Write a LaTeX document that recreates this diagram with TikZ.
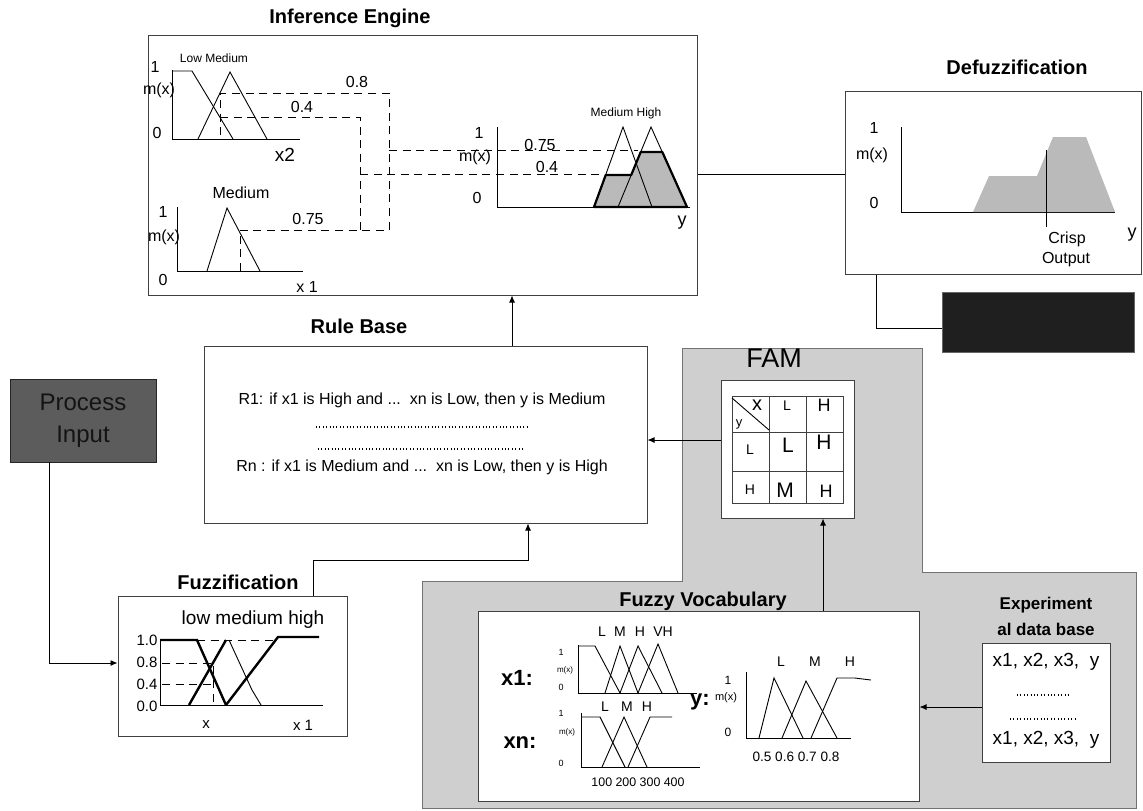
\documentclass[tikz,border=0pt]{standalone}
\usepackage{fontspec}
\setmainfont{Liberation Sans}
\usetikzlibrary{arrows.meta}
\newcommand\fz[1]{\fontsize{#1pt}{#1pt}\selectfont}
\begin{document}
\begin{tikzpicture}[x=0.5pt,y=-0.5pt,
  bx/.style={draw=black!75, line width=0.5pt, fill=white, inner sep=0pt},
  ttl/.style={font=\bfseries\fz{10}, inner sep=0pt},
  lab/.style={font=\fz{#1}, inner sep=0pt},
  lab/.default=8,
  ln/.style={line width=0.45pt},
  dsh/.style={line width=0.45pt, dash pattern=on 4pt off 2.8pt},
  thk/.style={line width=1.2pt},
  dots/.style={line width=0.6pt, dash pattern=on 0.5pt off 1.2pt},
  arr/.style={line width=0.45pt, -{Latex[length=3.5pt,width=3pt]}},
  shd/.style={fill=black!27},
]
\fill[white] (0,0) rectangle (1143,810);
\useasboundingbox (0,0) rectangle (1143,810);

% shaded knowledge area
\path[fill=black!19, draw=black!55, line width=0.4pt] (682,348) -- (922,348) -- (922,572) -- (1136,572) -- (1136,808) -- (422,808) -- (422,581) -- (682,581) -- cycle;

% boxes
\node[bx, minimum width=274.5pt, minimum height=130pt] (ie) at (422.5,165) {};
\node[bx, minimum width=148pt, minimum height=91.5pt] (defz) at (993,182.5) {};
\node[draw=black!60, fill=black!88, minimum width=96pt, minimum height=30pt, inner sep=0pt] (outb) at (1038,322) {};
\node[bx, minimum width=221.5pt, minimum height=88.5pt] (rule) at (425.5,434.5) {};
\node[draw=black!85, fill=black!64, minimum width=73pt, minimum height=41.5pt, inner sep=0pt, align=center, font=\fz{12}, text=black!92] (proc) at (83,420.5) {Process\\[4pt]Input};
\node[bx, minimum width=114.5pt, minimum height=70pt] (fuzz) at (232.5,666) {};
\node[bx, minimum width=66.5pt, minimum height=69pt] (fam) at (787.5,449) {};
\node[bx, minimum width=220.5pt, minimum height=95pt] (voc) at (698.5,706) {};
\node[bx, minimum width=64pt, minimum height=59.5pt] (db) at (1046,702.5) {};

% titles
\node[ttl] (tie) at (350,18) {Inference Engine};
\node[ttl] (tdf) at (1017,67) {Defuzzification};
\node[ttl] (trb) at (359,326) {Rule Base};
\node[ttl] (tfz) at (238,582) {Fuzzification};
\node[ttl] (tfv) at (703,601) {Fuzzy Vocabulary};
\node[lab=13.5] (tfam) at (774,358) {FAM};
\node[font=\bfseries\fz{8.5}, inner sep=0pt, align=center] (tdb) at (1046,616) {Experiment\\[4.5pt]al data base};

% connectors
\draw[ln] (ie.east |- 0,174) -- (defz.west |- 0,174);
\draw[ln] (defz.south -| 876,0) |- (outb.west |- 0,328);
\draw[arr] (rule.north -| 512,0) -- (ie.south -| 512,0);
\draw[arr] (fam.west |- 0,440) -- (rule.east |- 0,440);
\draw[arr] (voc.north -| 823,0) -- (fam.south -| 823,0);
\draw[arr] (db.west |- 0,707) -- (voc.east |- 0,707);
\draw[arr] (proc.south -| 49,0) |- (fuzz.west |- 0,663);
\draw[arr] (fuzz.north -| 313,0) -- (313,560) -| (rule.south -| 528,0);

% ---- Inference engine: x2 plot
\draw[ln] (172,70) -- (172,139) -- (300,139);
\draw[ln] (172,71) -- (192,71) -- (233,139);
\draw[ln] (198,139) -- (230,72) -- (267,139);
\node[lab=6] (ie1) at (214,58) {Low Medium};
\node[lab] (ie2) at (155,67) {1};
\node[lab] (ie3) at (159,90) {m(x)};
\node[lab] (ie4) at (157,133) {0};
\node[lab=9.5] (ie5) at (285,155) {x2};
% x1 plot
\draw[ln] (177,207) -- (177,271) -- (303,271);
\draw[ln] (207,271) -- (227,208) -- (260,271);
\node[lab] (ie6) at (241,193) {Medium};
\node[lab] (ie7) at (163,212) {1};
\node[lab] (ie8) at (164,237) {m(x)};
\node[lab] (ie9) at (163,280) {0};
\node[lab] (ie10) at (307,287) {x 1};
% dashed min lines
\draw[dsh] (240,271) -- (240,230) -- (389,230) -- (389,93) -- (220,93) -- (220,139);
\draw[dsh] (220,117) -- (360,117) -- (360,230);
\draw[dsh] (389,150) -- (638,150);
\draw[dsh] (360,174) -- (606,174);
\node[lab] (ie11) at (357,82) {0.8};
\node[lab] (ie12) at (302,107) {0.4};
\node[lab] (ie13) at (308,219) {0.75};
% output plot
\draw[ln] (497,127) -- (497,207) -- (690,207);
\path[shd, draw=black, line width=1.1pt, line join=round] (594,207) -- (605.7,175) -- (631.2,175) -- (640.7,152) -- (662.3,152) -- (687,207) -- cycle;
\draw[ln] (594,207) -- (623,127) -- (652,207);
\draw[ln] (618,207) -- (651,127) -- (687,207);
\node[lab=6] (ie14) at (626,113) {Medium High};
\node[lab] (ie15) at (479,133) {1};
\node[lab] (ie16) at (475,157) {m(x)};
\node[lab] (ie17) at (477,198) {0};
\node[lab] (ie18) at (540,145) {0.75};
\node[lab] (ie19) at (547,167) {0.4};
\node[lab=9] (ie20) at (682,223) {y};

% ---- Defuzzification
\draw[ln] (901,127) -- (901,212) -- (1115,212);
\path[shd] (973,212) -- (989,176) -- (1037,176) -- (1053,137) -- (1086,137) -- (1115,212) -- cycle;
\draw[ln] (1046,150) -- (1046,227);
\node[lab] (df1) at (874,128) {1};
\node[lab] (df2) at (872,155) {m(x)};
\node[lab] (df3) at (874,203) {0};
\node[lab] (df4) at (1067,239) {Crisp};
\node[lab] (df5) at (1066,260) {Output};
\node[lab=9] (df6) at (1132,235) {y};

% ---- Rule base text
\node[lab] (r1) at (422,400) {R1: if x1 is High and ...\ \ xn is Low, then y is Medium};
\draw[dots] (316,427) -- (528,427);
\draw[dots] (318,449) -- (525,449);
\node[lab] (rn) at (422,467) {Rn : if x1 is Medium and ...\ \ xn is Low, then y is High};

% ---- FAM grid
\draw[line width=0.5pt, draw=black!75] (732,396) rectangle (843,503);
\draw[line width=0.5pt, draw=black!75] (769,396) -- (769,503) (806,396) -- (806,503) (732,432) -- (843,432) (732,471) -- (843,471);
\draw[ln] (732,398) -- (769,430);
\node[lab=10] (f1) at (757,405) {x};
\node[lab=6.5] (f2) at (739,424) {y};
\node[lab=7] (f3) at (787,406) {L};
\node[lab=9] (f4) at (824,405) {H};
\node[lab=7] (f5) at (750,450) {L};
\node[lab=10.5] (f6) at (788,445) {L};
\node[lab=10.5] (f7) at (824,442) {H};
\node[lab=7] (f8) at (750,490) {H};
\node[lab=10.5] (f9) at (785,490) {M};
\node[lab=9] (f10) at (826,491) {H};

% ---- Fuzzification
\draw[ln] (160,640) -- (160,705) -- (323,705);
\draw[thk] (160,640) -- (197,640) -- (226,705);
\draw[thk] (189,705) -- (226,640);
\draw[ln] (229,640) -- (252,690) -- (261,705);
\draw[thk] (226,705) -- (278,637) -- (319,637);
\draw[dsh] (197,640) -- (278,640);
\draw[dsh] (162,663) -- (213,663) -- (213,705);
\draw[dsh] (162,684) -- (213,684);
\node[lab=9.5] (z1) at (253,620) {low medium high};
\node[lab=7.5] (z2) at (147,640) {1.0};
\node[lab=7.5] (z3) at (147,662) {0.8};
\node[lab=7.5] (z4) at (147,684) {0.4};
\node[lab=7.5] (z5) at (147,706) {0.0};
\node[lab=7.5] (z6) at (206,725) {x};
\node[lab=7.5] (z7) at (303,725) {x 1};

% ---- Fuzzy vocabulary
\node[font=\bfseries\fz{11}, inner sep=0pt] (v1) at (517,678) {x1:};
\node[font=\bfseries\fz{11}, inner sep=0pt] (v2) at (520,743) {xn:};
\node[font=\bfseries\fz{11}, inner sep=0pt] (v3) at (700,702) {y:};
% x1
\draw[ln] (578,645) -- (578,693) -- (697,693);
\draw[ln] (578,646) -- (595,646) -- (620,693);
\draw[ln] (605,693) -- (620,646) -- (638,693);
\draw[ln] (620,693) -- (638,646) -- (662,693);
\draw[ln] (638,693) -- (658,644) -- (678,693);
\node[lab=4.5] (v4) at (561,652) {1};
\node[lab=4] (v5) at (565,670) {m(x)};
\node[lab=4.5] (v6) at (561,687) {0};
\node[lab=7] (v7) at (602,632) {L};
\node[lab=7] (v8) at (620,632) {M};
\node[lab=7] (v9) at (640,632) {H};
\node[lab=7] (v10) at (663,632) {VH};
% xn
\draw[ln] (581,713) -- (581,767) -- (700,767);
\draw[ln] (581,717) -- (600,717) -- (625,767);
\draw[ln] (602,767) -- (624,717) -- (647,767);
\draw[ln] (628,767) -- (650,717) -- (672,717);
\node[lab=4.5] (v11) at (561,713) {1};
\node[lab=4] (v12) at (567,732) {m(x)};
\node[lab=4.5] (v13) at (561,763) {0};
\node[lab=7] (v14) at (605,707) {L};
\node[lab=7] (v15) at (627,707) {M};
\node[lab=7] (v16) at (647,707) {H};
\node[lab=6.2] (v17) at (638,782) {100 200 300 400};
% y
\draw[ln] (746,672) -- (746,738) -- (851,738);
\draw[ln] (759,738) -- (774,678) -- (803,738);
\draw[ln] (782,738) -- (806,681) -- (837,738);
\draw[ln] (811,738) -- (837,678) -- (855,678) -- (871,680);
\node[lab=6] (v18) at (728,680) {1};
\node[lab=5.5] (v19) at (726,698) {m(x)};
\node[lab=6] (v20) at (728,732) {0};
\node[lab=7] (v21) at (781,662) {L};
\node[lab=7] (v22) at (815,662) {M};
\node[lab=7] (v23) at (850,662) {H};
\node[lab=6.8] (v24) at (796,757) {0.5 0.6 0.7 0.8};

% ---- Experimental data base
\node[lab=9.5] (d1) at (1046,662) {x1, x2, x3,\ \ y};
\draw[dots] (1017,695) -- (1070,695);
\draw[dots] (1010,719) -- (1075,719);
\node[lab=9.5] (d2) at (1046,740) {x1, x2, x3,\ \ y};
\end{tikzpicture}
\end{document}
